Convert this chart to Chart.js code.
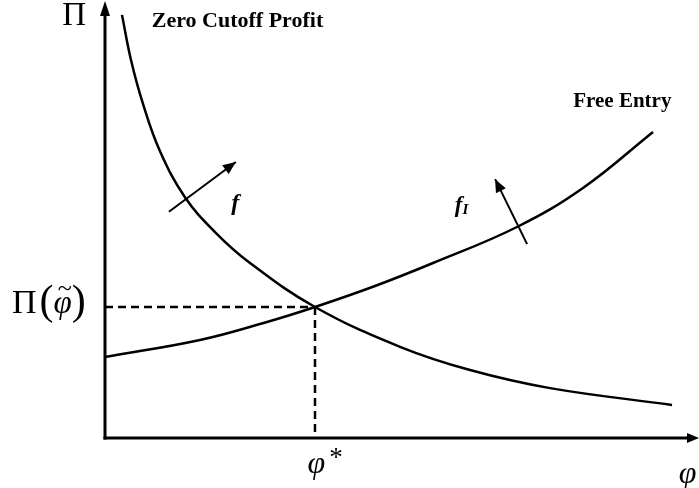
<!DOCTYPE html>
<html><head><meta charset="utf-8">
<script src="https://cdn.jsdelivr.net/npm/chart.js@4"></script>
<style>html,body{margin:0;padding:0;background:#fff}canvas{display:block}</style>
</head><body>
<canvas id="c" width="699" height="488"></canvas>
<script>
// ---- data (phi on x, profit Pi on y) ----
const zeroCutoffPhi = [0.287, 0.439, 0.642, 0.929, 1.351, 1.858, 2.449, 3.547, 4.983, 6.166, 7.517, 9.578];
const zeroCutoffPi  = [9.84, 8.79, 7.77, 6.67, 5.60, 4.79, 4.07, 3.047, 2.12, 1.58, 1.16, 0.77];
const freeEntryPhi  = [0.000, 1.605, 2.736, 3.547, 4.561, 5.541, 6.959, 8.074, 9.257];
const freeEntryPi   = [1.884, 2.279, 2.698, 3.047, 3.535, 4.070, 4.907, 5.814, 7.116];
const equilibriumPhi = 3.547;
const equilibriumPi  = 3.047;
const shiftFPhi  = [1.08, 2.21];
const shiftFPi   = [5.26, 6.42];
const shiftFIPhi = [7.13, 6.59];
const shiftFIPi  = [4.51, 6.02];
const axisMin = 0, axisMax = 10;

const pts = (xs, ys) => xs.map((v, i) => ({x: v, y: ys[i]}));
const SERIF = '"Liberation Serif", "Times New Roman", serif';

const overlay = {
  id: 'overlay',
  afterDatasetsDraw(chart, args, opts) {
    const {ctx, scales: {x, y}} = chart;
    ctx.save();
    ctx.strokeStyle = '#000'; ctx.fillStyle = '#000';
    const x0 = x.getPixelForValue(axisMin), y0 = y.getPixelForValue(axisMin);
    const yTop = y.getPixelForValue(axisMax) - 7;
    const xEnd = x.getPixelForValue(axisMax) + 2;
    // axes
    ctx.lineWidth = 3;
    ctx.beginPath(); ctx.moveTo(x0, y0 + 1.5); ctx.lineTo(x0, yTop + 10); ctx.stroke();
    ctx.beginPath(); ctx.moveTo(x0 - 1.5, y0); ctx.lineTo(xEnd - 8, y0); ctx.stroke();
    ctx.beginPath(); ctx.moveTo(x0, yTop); ctx.lineTo(x0 - 5, yTop + 15); ctx.lineTo(x0 + 5, yTop + 15); ctx.closePath(); ctx.fill();
    ctx.beginPath(); ctx.moveTo(xEnd, y0); ctx.lineTo(xEnd - 12, y0 - 5); ctx.lineTo(xEnd - 12, y0 + 5); ctx.closePath(); ctx.fill();
    // arrowheads for the shift arrows
    const head = (xs, ys) => {
      const px = x.getPixelForValue(xs[1]), py = y.getPixelForValue(ys[1]);
      const qx = x.getPixelForValue(xs[0]), qy = y.getPixelForValue(ys[0]);
      const ang = Math.atan2(py - qy, px - qx);
      const L = 13, W = 5.5;
      ctx.beginPath();
      ctx.moveTo(px, py);
      ctx.lineTo(px - L * Math.cos(ang) + W * Math.sin(ang), py - L * Math.sin(ang) - W * Math.cos(ang));
      ctx.lineTo(px - L * Math.cos(ang) - W * Math.sin(ang), py - L * Math.sin(ang) + W * Math.cos(ang));
      ctx.closePath(); ctx.fill();
    };
    head(shiftFPhi, shiftFPi);
    head(shiftFIPhi, shiftFIPi);
    // texts
    ctx.textBaseline = 'middle';
    for (const t of opts.texts) {
      let cx = x.getPixelForValue(t.phi), cy = y.getPixelForValue(t.pi);
      const parts = t.parts;
      ctx.textAlign = 'left';
      let total = 0;
      for (const p of parts) { ctx.font = p.font; total += ctx.measureText(p.s).width + (p.dx || 0); }
      if (t.align === 'center') cx -= total / 2;
      for (const p of parts) {
        ctx.font = p.font;
        ctx.fillText(p.s, cx + (p.dx || 0), cy + (p.dy || 0));
        if (p.tilde) {
          const w = ctx.measureText(p.s).width;
          ctx.font = '26px ' + SERIF;
          const tw = ctx.measureText('~').width;
          ctx.fillText('~', cx + (p.dx || 0) + w / 2 - tw / 2 + 2, cy - 15);
          ctx.font = p.font;
        }
        cx += ctx.measureText(p.s).width + (p.dx || 0);
      }
    }
    ctx.restore();
  }
};

const lineStyle = {borderColor: '#000', borderWidth: 2.5, pointRadius: 0, showLine: true, fill: false, clip: false};

new Chart(document.getElementById('c'), {
  type: 'scatter',
  data: {
    datasets: [
      {...lineStyle, label: 'Zero Cutoff Profit', data: pts(zeroCutoffPhi, zeroCutoffPi), tension: 0.4},
      {...lineStyle, label: 'Free Entry', data: pts(freeEntryPhi, freeEntryPi), tension: 0.4},
      {...lineStyle, label: 'h', borderWidth: 2.5, borderDash: [8, 5], data: [{x: axisMin, y: equilibriumPi}, {x: equilibriumPhi, y: equilibriumPi}]},
      {...lineStyle, label: 'v', borderWidth: 2.5, borderDash: [8, 5], data: [{x: equilibriumPhi, y: equilibriumPi}, {x: equilibriumPhi, y: axisMin}]},
      {...lineStyle, label: 'f', borderWidth: 2, data: pts(shiftFPhi, shiftFPi)},
      {...lineStyle, label: 'fI', borderWidth: 2, data: pts(shiftFIPhi, shiftFIPi)}
    ]
  },
  options: {
    responsive: false,
    animation: false,
    devicePixelRatio: 1,
    layout: {padding: {left: 105, right: 2, top: 8, bottom: 50}},
    scales: {
      x: {type: 'linear', min: axisMin, max: axisMax, display: false},
      y: {type: 'linear', min: axisMin, max: axisMax, display: false}
    },
    plugins: {
      legend: {display: false},
      tooltip: {enabled: false},
      overlay: {
        texts: [
          {phi: -0.52, pi: 9.8, align: 'center', parts: [{s: 'Π', font: '33px ' + SERIF}]},
          {phi: 0.79, pi: 9.68, align: 'left', parts: [{s: 'Zero Cutoff Profit', font: 'bold 22px ' + SERIF}]},
          {phi: 7.91, pi: 7.83, align: 'left', parts: [{s: 'Free Entry', font: 'bold 21px ' + SERIF}]},
          {phi: 2.20, pi: 5.44, align: 'center', parts: [{s: 'f', font: 'italic bold 24px ' + SERIF}]},
          {phi: 5.91, pi: 5.40, align: 'left', parts: [{s: 'f', font: 'italic bold 23px ' + SERIF}, {s: 'I', font: 'italic bold 15px ' + SERIF, dy: 4, dx: 0}]},
          {phi: 3.72, pi: -0.62, align: 'center', parts: [{s: 'φ', font: 'italic 32px ' + SERIF}, {s: '*', font: '27px ' + SERIF, dx: 4, dy: -6}]},
          {phi: 9.84, pi: -0.86, align: 'center', parts: [{s: 'φ', font: 'italic 32px ' + SERIF}]},
          {phi: -1.57, pi: 3.12, align: 'left', parts: [{s: 'Π', font: '34px ' + SERIF}, {s: '(', font: '42px ' + SERIF, dx: 3, dy: -1}, {s: 'φ', font: 'italic 33px ' + SERIF, tilde: true}, {s: ')', font: '42px ' + SERIF, dy: -1}]}
        ]
      }
    }
  },
  plugins: [overlay]
});
</script>
</body></html>
